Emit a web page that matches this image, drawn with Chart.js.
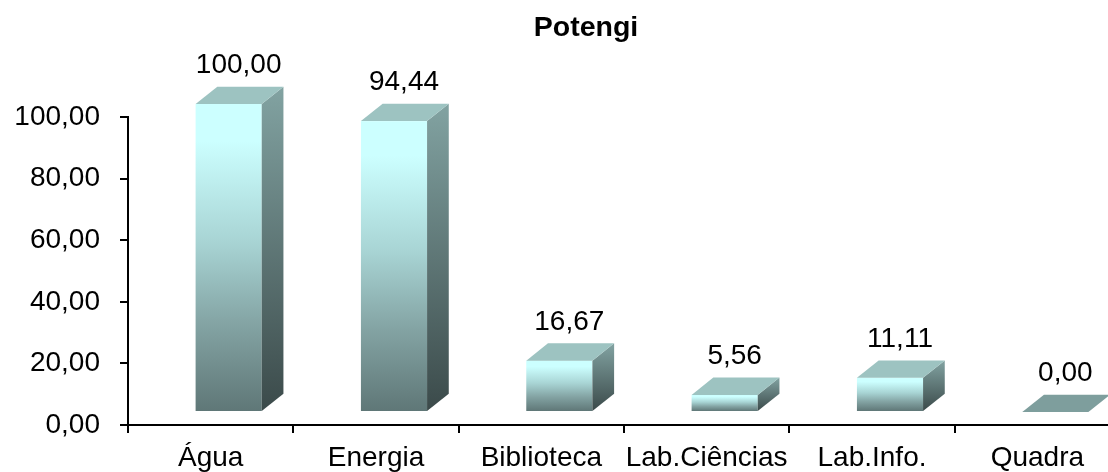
<!DOCTYPE html>
<html>
<head>
<meta charset="utf-8">
<script src="https://cdn.jsdelivr.net/npm/chart.js@4"></script>
<style>
  html, body { margin: 0; padding: 0; background: #fff; overflow: hidden; width: 1108px; height: 472px; }
  canvas { display: block; }
</style>
</head>
<body>
<canvas id="c" width="1160" height="472"></canvas>
<script>
const categories = ['Água', 'Energia', 'Biblioteca', 'Lab.Ciências', 'Lab.Info.', 'Quadra'];
const values = [100.00, 94.44, 16.67, 5.56, 11.11, 0.00];
const yTickValues = [0, 20, 40, 60, 80, 100];
const chartTitle = 'Potengi';

const FONT = '"Liberation Sans", Arial, sans-serif';
const fmt = v => Number(v).toFixed(2).replace('.', ',');

const titleShift = {
  id: 'titleShift',
  afterLayout(chart) {
    if (chart.titleBlock) {
      chart.titleBlock.left = 52;
      chart.titleBlock.right = 1120;
      chart.titleBlock.width = 1068;
    }
  }
};

const bars3d = {
  id: 'bars3d',
  afterDatasetsDraw(chart) {
    const ctx = chart.ctx;
    const meta = chart.getDatasetMeta(0);
    const sx = 18, sy = -13, dx = 21.7, dy = -17.3;
    ctx.save();
    meta.data.forEach((bar, i) => {
      const p = bar.getProps(['x', 'y', 'base', 'width'], true);
      const l = p.x - p.width / 2 + sx, r = p.x + p.width / 2 + sx;
      const t = p.y + sy, b = p.base + sy;
      const h = b - t;
      if (h > 0.5) {
        const g = ctx.createLinearGradient(0, t, 0, b);
        g.addColorStop(0, '#ccffff');
        g.addColorStop(0.12, '#ccffff');
        g.addColorStop(0.45, '#a8d4d4');
        g.addColorStop(0.72, '#83a3a3');
        g.addColorStop(1, '#5f7777');
        ctx.fillStyle = g;
        ctx.fillRect(l, t, r - l, h);
        const gs = ctx.createLinearGradient(0, t + dy, 0, b);
        gs.addColorStop(0, '#82a3a2');
        gs.addColorStop(1, '#3b4a4a');
        ctx.fillStyle = gs;
        ctx.beginPath();
        ctx.moveTo(r, t);
        ctx.lineTo(r + dx, t + dy);
        ctx.lineTo(r + dx, b + dy);
        ctx.lineTo(r, b);
        ctx.closePath();
        ctx.fill();
      }
      ctx.fillStyle = h > 0.5 ? '#9dc3c1' : '#7e9e9d';
      ctx.beginPath();
      ctx.moveTo(l, t);
      ctx.lineTo(l + dx, t + dy);
      ctx.lineTo(r + dx, t + dy);
      ctx.lineTo(r, t);
      ctx.closePath();
      ctx.fill();
      ctx.fillStyle = '#000';
      ctx.font = '28px ' + FONT;
      ctx.textAlign = 'center';
      ctx.textBaseline = 'alphabetic';
      ctx.fillText(fmt(values[i]), p.x + sx + 10, t + dy - 13.5);
    });
    ctx.restore();
  }
};

new Chart(document.getElementById('c'), {
  type: 'bar',
  data: {
    labels: categories,
    datasets: [{
      data: values,
      backgroundColor: 'rgba(0,0,0,0)',
      borderWidth: 0,
      categoryPercentage: 1.0,
      barPercentage: 0.4
    }]
  },
  options: {
    responsive: false,
    animation: false,
    layout: { padding: { left: 0, right: 40, top: 0, bottom: 0 } },
    plugins: {
      legend: { display: false },
      tooltip: { enabled: false },
      title: {
        display: true,
        text: chartTitle,
        color: '#000',
        font: { family: FONT, size: 28.5, weight: 'bold' },
        padding: { top: 11, bottom: 71.8 }
      }
    },
    scales: {
      x: {
        offset: true,
        grid: { offset: true, drawOnChartArea: false, drawTicks: true, tickLength: 8, color: '#000', lineWidth: 2 },
        border: { display: true, color: '#000', width: 2 },
        ticks: { color: '#000', font: { family: FONT, size: 28 }, padding: 8, autoSkip: false, maxRotation: 0 },
        afterFit: s => { s.height = 47; }
      },
      y: {
        min: 0,
        max: 100,
        afterBuildTicks: s => { s.ticks = yTickValues.map(v => ({ value: v })); },
        grid: { drawOnChartArea: false, drawTicks: true, tickLength: 8, color: '#000', lineWidth: 2 },
        border: { display: true, color: '#000', width: 2 },
        ticks: { color: '#000', font: { family: FONT, size: 28 }, padding: 20, callback: v => fmt(v) },
        afterFit: s => { s.width = 128; }
      }
    }
  },
  plugins: [titleShift, bars3d]
});
</script>
</body>
</html>
